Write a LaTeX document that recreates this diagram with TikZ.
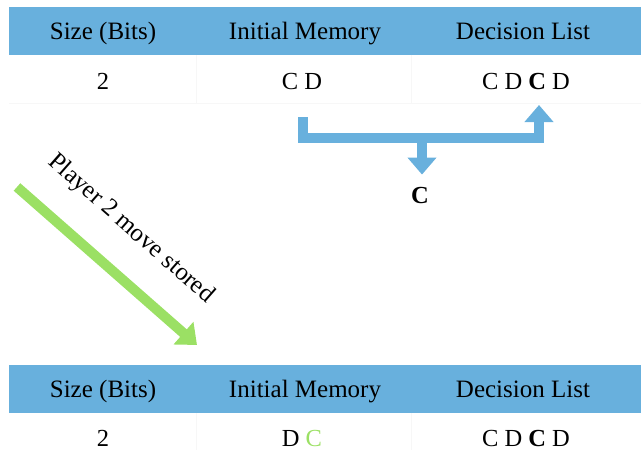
\documentclass[tikz,border=0pt]{standalone}
\usepackage{fontspec}
\setmainfont{Liberation Serif}
\usetikzlibrary{arrows.meta}
\definecolor{bandblue}{RGB}{104,176,221}
\definecolor{movegreen}{RGB}{155,224,100}

\begin{document}
\begin{tikzpicture}[x=1pt,y=-1pt,
  head/.style={font=\fontsize{25}{30}\selectfont,inner sep=0pt,anchor=base},
  cell/.style={font=\fontsize{24.5}{29}\selectfont,inner sep=0pt,anchor=base},
  grid/.style={draw=black!3,line width=0.8pt},
  flow/.style={draw=bandblue,line width=10pt,-{Triangle[width=28pt,length=17pt]}},
  push/.style={draw=movegreen,line width=10pt,-{Triangle[width=29pt,length=18pt]}}]
  \useasboundingbox (0,0) rectangle (641,450);

  % Tabla 1
  \fill[bandblue] (9,7) rectangle (641,55);
  \draw[grid] (9,103) -- (641,103);
  \draw[grid] (196,55) -- (196,103) (411,55) -- (411,103);
  \node[head] (h1) at (103,39) {Size (Bits)};
  \node[head] (h2) at (305,39) {Initial Memory};
  \node[head] (h3) at (523,39) {Decision List};
  \node[cell] (size1) at (103,89) {2};
  \node[cell] (mem1) at (302,89) {C D};
  \node[cell] (list1) at (526,89) {C D \textbf{C} D};

  % Tabla 2
  \fill[bandblue] (9,365) rectangle (641,413);
  \draw[grid] (196,413) -- (196,450) (411,413) -- (411,450);
  \node[head] (h4) at (103,397) {Size (Bits)};
  \node[head] (h5) at (305,397) {Initial Memory};
  \node[head] (h6) at (523,397) {Decision List};
  \node[cell] (size2) at (103,446) {2};
  \node[cell] (mem2) at (302,446) {D \textcolor{movegreen}{C}};
  \node[cell] (list2) at (526,446) {C D \textbf{C} D};

  % Decisión
  \node[cell] (res) at (420,203) {\textbf{C}};
  \coordinate (memout) at (303,117);
  \coordinate (bus) at (422,138);
  \coordinate (listin) at (539,105);
  \draw[flow] (memout) |- (bus) -| (listin);
  \draw[flow,shorten >=12pt] (bus) -- (bus |- res.north);

  % Movimiento guardado
  \coordinate (ptail) at (17,187);
  \coordinate (phead) at (197,345);
  \draw[push] (ptail) -- (phead);
  \node[font=\fontsize{25}{30}\selectfont,inner sep=0pt,rotate=-41.3] (stored) at (131,229) {Player 2 move stored};
\end{tikzpicture}
\end{document}
